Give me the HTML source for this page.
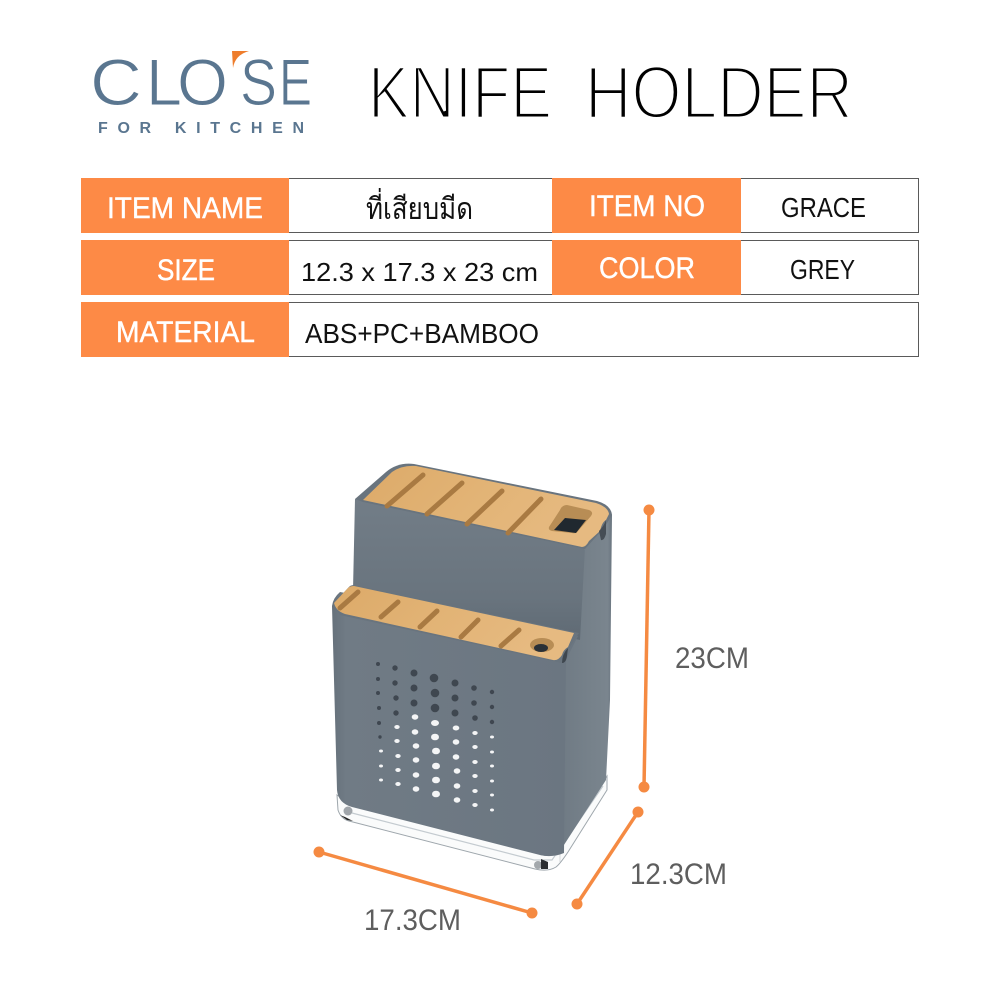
<!DOCTYPE html>
<html><head><meta charset="utf-8"><style>
html,body{margin:0;padding:0;background:#fff;width:1000px;height:1000px;overflow:hidden}
svg{display:block}
text{font-family:"Liberation Sans","Noto Sans CJK SC",sans-serif}
</style></head><body>
<svg width="1000" height="1000" viewBox="0 0 1000 1000" xmlns="http://www.w3.org/2000/svg">
<defs>
<linearGradient id="bam" x1="0" y1="0" x2="1" y2="0.3"><stop offset="0" stop-color="#dcaa69"/><stop offset=".5" stop-color="#e2b375"/><stop offset="1" stop-color="#e6ba81"/></linearGradient>
<linearGradient id="side" gradientUnits="userSpaceOnUse" x1="560" y1="0" x2="612" y2="0"><stop offset="0" stop-color="#6f7a84"/><stop offset=".55" stop-color="#76818a"/><stop offset=".92" stop-color="#7a858e"/><stop offset="1" stop-color="#69747e"/></linearGradient>
<linearGradient id="upper" x1="0" y1="0" x2="0" y2="1"><stop offset="0" stop-color="#727d87"/><stop offset=".7" stop-color="#69747e"/><stop offset="1" stop-color="#5f6a74"/></linearGradient>
<linearGradient id="front" gradientUnits="userSpaceOnUse" x1="332" y1="0" x2="566" y2="0"><stop offset="0" stop-color="#66717b"/><stop offset=".06" stop-color="#707b85"/><stop offset="1" stop-color="#6b7681"/></linearGradient>
</defs>

<!-- logo -->
<g fill="#5a7690" stroke="#fff" stroke-width="1" font-size="66">
<text x="90" y="105" textLength="52" lengthAdjust="spacingAndGlyphs">C</text>
<text x="146" y="105" textLength="36" lengthAdjust="spacingAndGlyphs">L</text>
<text x="177" y="105" textLength="51" lengthAdjust="spacingAndGlyphs">O</text>
<text x="240" y="105" textLength="37" lengthAdjust="spacingAndGlyphs">S</text>
<text x="279" y="105" textLength="33" lengthAdjust="spacingAndGlyphs">E</text>
</g>
<path d="M232 51H249Q235 55 233 68Z" fill="#ee7d2c"/>
<text x="98" y="133" font-size="16" font-weight="bold" fill="#5a7690" textLength="206">FOR KITCHEN</text>

<!-- title -->
<g fill="#000" stroke="#fff" stroke-width="3" font-size="74">
<text x="368" y="118" textLength="184" lengthAdjust="spacingAndGlyphs">KNIFE</text>
<text x="585" y="118" textLength="268" lengthAdjust="spacingAndGlyphs">HOLDER</text>
</g>

<!-- table -->
<g fill="none" stroke="#5a5a5a" stroke-width="1">
<rect x="81.500" y="178.500" width="837" height="54"/>
<rect x="81.500" y="240.500" width="837" height="54"/>
<rect x="81.500" y="302.500" width="837" height="54"/>
</g>
<g fill="#fd8a46">
<rect x="81" y="178" width="208" height="55"/>
<rect x="81" y="240" width="208" height="55"/>
<rect x="81" y="302" width="208" height="55"/>
<rect x="552" y="178" width="189" height="55"/>
<rect x="552" y="240" width="189" height="55"/>
</g>
<g fill="#fff" stroke="#fff" stroke-width=".4" font-size="30">
<text x="107" y="218" textLength="156" lengthAdjust="spacingAndGlyphs">ITEM NAME</text>
<text x="157" y="280" textLength="58" lengthAdjust="spacingAndGlyphs">SIZE</text>
<text x="116" y="342" textLength="139" lengthAdjust="spacingAndGlyphs">MATERIAL</text>
<text x="589" y="216" textLength="116" lengthAdjust="spacingAndGlyphs">ITEM NO</text>
<text x="599" y="278" textLength="96" lengthAdjust="spacingAndGlyphs">COLOR</text>
</g>
<g fill="#111" font-size="28">
<text x="366" y="219" font-size="30" font-family="'Liberation Sans','Noto Sans Thai','Noto Sans CJK SC',sans-serif" textLength="107" lengthAdjust="spacingAndGlyphs">ที่เสียบมีด</text>
<text x="301" y="281" font-size="26" textLength="237" lengthAdjust="spacingAndGlyphs">12.3 x 17.3 x 23 cm</text>
<text x="305" y="343" textLength="234" lengthAdjust="spacingAndGlyphs">ABS+PC+BAMBOO</text>
<text x="781" y="217" textLength="85" lengthAdjust="spacingAndGlyphs">GRACE</text>
<text x="790" y="279" textLength="65" lengthAdjust="spacingAndGlyphs">GREY</text>
</g>

<!-- glass base -->
<path d="M337 795L338 810Q341 819 349 821L535 869Q548 872 556 867Q560 864 568 852L607 790L607 776L556 850L345 800Z" fill="#fafbfb" stroke="#9ea6ac" stroke-width="1"/>
<path d="M352 813L534 860L552 860L603 786" fill="none" stroke="#c4cbd0" stroke-width="1.200"/>
<path d="M560 848V862" stroke="#d5dadd" stroke-width="1"/>
<circle cx="348" cy="811" r="4.500" fill="#a0a5aa"/><path d="M340 815L347 820L353 821L345 817Z" fill="#222"/>
<circle cx="538" cy="865" r="4" fill="#a3a8ac"/><path d="M541 859L548 862L548 869L541 869Z" fill="#2a2d30"/>

<!-- side face -->
<path d="M585 548L612 514L610 700L606 780L562 848Q555 858 540 855L500 700L566 640Z" fill="url(#side)"/>
<!-- upper front -->
<path d="M355 499L353 590L580 640L585 548L363 500Z" fill="url(#upper)"/>
<!-- lower body front -->
<path d="M332 606Q333 598 340 592L578 636L566 660L564 853Q552 858 540 855L352 807Q338 803 337 790Z" fill="url(#front)"/>

<!-- upper bamboo -->
<path d="M355 499L386 472Q398 462 414 464L597 501Q611 505 612 515L604 528L585 549L363 502Z" fill="#69747e"/>
<path d="M363 500L392 472Q402 465 416 466L596 503Q608 507 609 514L606 520Q602 522 600 531L589 541Q586 547 582 547Z" fill="url(#bam)"/>
<g stroke="#a97a42" stroke-width="5" stroke-linecap="round" fill="none">
<path d="M387 506L423 475"/><path d="M427 514L462 483"/><path d="M467 524L502 491"/><path d="M508 533L541 499"/>
</g>
<path d="M549 527L560 510Q562 505 567 505L589 510Q594 512 591 516L578 531Q576 534 572 533L552 531Q548 530 549 527Z" fill="#b88d55"/>
<path d="M554 530L565 518L586 520L576 533Z" fill="#20282f"/>
<path d="M599 531Q604 526 606 520L606 534Q604 541 601 540Z" fill="#454d55"/>

<!-- lower bamboo -->
<path d="M333 604L348 588Q350 585 354 585L579 633L568 650L562 663L340 615Z" fill="#69747e"/>
<path d="M334 603L348 588Q350 586 354 586L574 633L568 647Q563 650 562 655Q558 661 553 660L345 614Q336 611 334 603Z" fill="url(#bam)"/>
<g stroke="#a97a42" stroke-width="5" stroke-linecap="round" fill="none">
<path d="M340 608L358 592"/><path d="M381 617L398 602"/><path d="M420 627L437 611"/><path d="M461 637L478 620"/><path d="M501 646L519 630"/>
</g>
<ellipse cx="542" cy="645" rx="12" ry="7" fill="#b88d55"/><ellipse cx="541" cy="648" rx="7" ry="4" fill="#2a3036"/>
<path d="M562 663Q562 654 568 648L567 656Q566 663 562 663Z" fill="#3f474f"/>

<!-- holes -->
<g fill="#3f4750">
<circle cx="378" cy="664" r="2"/><circle cx="378" cy="679" r="2"/><circle cx="378" cy="693" r="2"/><circle cx="379" cy="708" r="2"/><circle cx="379" cy="723" r="2"/><circle cx="380" cy="737" r="1.700"/>
<circle cx="395" cy="668" r="2.700"/><circle cx="395" cy="683" r="2.700"/><circle cx="396" cy="698" r="2.700"/><circle cx="396" cy="713" r="2.700"/>
<circle cx="414" cy="673" r="3.500"/><circle cx="414" cy="688" r="3.500"/><circle cx="414" cy="703" r="3.500"/>
<circle cx="434" cy="678" r="4.300"/><circle cx="435" cy="693" r="4.300"/><circle cx="435" cy="708" r="4.300"/>
<circle cx="455" cy="683" r="3.500"/><circle cx="455" cy="698" r="3.500"/><circle cx="455" cy="713" r="3.500"/>
<circle cx="474" cy="688" r="2.800"/><circle cx="474" cy="703" r="2.800"/><circle cx="475" cy="718" r="2.800"/>
<circle cx="492" cy="692" r="2.200"/><circle cx="492" cy="707" r="2.200"/><circle cx="492" cy="722" r="2.200"/>
</g>
<g fill="#f4f5f6">
<ellipse cx="381" cy="751" rx="2" ry="1.500"/><ellipse cx="381" cy="766" rx="2" ry="1.500"/><ellipse cx="381" cy="780" rx="2" ry="1.500"/>
<ellipse cx="397" cy="727" rx="2.700" ry="2"/><ellipse cx="397" cy="741" rx="2.700" ry="2"/><ellipse cx="398" cy="756" rx="2.700" ry="2"/><ellipse cx="398" cy="770" rx="2.700" ry="2"/><ellipse cx="398" cy="784" rx="2.700" ry="2"/>
<ellipse cx="415" cy="717" rx="3.300" ry="2.700"/><ellipse cx="415" cy="732" rx="3.300" ry="2.700"/><ellipse cx="416" cy="746" rx="3.300" ry="2.700"/><ellipse cx="416" cy="760" rx="3.300" ry="2.700"/><ellipse cx="416" cy="775" rx="3.300" ry="2.700"/><ellipse cx="416" cy="789" rx="3.300" ry="2.700"/>
<ellipse cx="435" cy="723" rx="4" ry="3"/><ellipse cx="435" cy="737" rx="4" ry="3.300"/><ellipse cx="436" cy="751" rx="4" ry="3.300"/><ellipse cx="436" cy="766" rx="4" ry="3.300"/><ellipse cx="436" cy="780" rx="4" ry="3.300"/><ellipse cx="436" cy="794" rx="4" ry="3.300"/>
<ellipse cx="456" cy="728" rx="3.300" ry="2.500"/><ellipse cx="456" cy="742" rx="3.300" ry="2.700"/><ellipse cx="456" cy="757" rx="3.300" ry="2.700"/><ellipse cx="457" cy="771" rx="3.300" ry="2.700"/><ellipse cx="457" cy="786" rx="3.300" ry="2.700"/><ellipse cx="457" cy="800" rx="3.300" ry="2.700"/>
<ellipse cx="475" cy="733" rx="2.700" ry="2"/><ellipse cx="475" cy="747" rx="2.700" ry="2"/><ellipse cx="475" cy="762" rx="2.700" ry="2"/><ellipse cx="475" cy="776" rx="2.700" ry="2"/><ellipse cx="475" cy="791" rx="2.700" ry="2"/><ellipse cx="475" cy="805" rx="2.700" ry="2"/>
<ellipse cx="492" cy="737" rx="2" ry="1.500"/><ellipse cx="492" cy="752" rx="2" ry="1.500"/><ellipse cx="492" cy="766" rx="2" ry="1.500"/><ellipse cx="492" cy="781" rx="2" ry="1.500"/><ellipse cx="492" cy="795" rx="2" ry="1.500"/><ellipse cx="492" cy="810" rx="2" ry="1.500"/>
</g>

<!-- dimensions -->
<g stroke="#f58a42" stroke-width="3.500" fill="#f58a42">
<line x1="649" y1="510" x2="644" y2="787"/>
<line x1="638" y1="812" x2="577" y2="904"/>
<line x1="319" y1="852" x2="532" y2="913"/>
</g>
<g fill="#f58a42">
<circle cx="649" cy="510" r="5.500"/><circle cx="644" cy="787" r="5.500"/>
<circle cx="638" cy="812" r="5.500"/><circle cx="577" cy="904" r="5.500"/>
<circle cx="319" cy="852" r="5.500"/><circle cx="532" cy="913" r="5.500"/>
</g>
<g fill="#5e5e5e" font-size="30">
<text x="675" y="668" textLength="74" lengthAdjust="spacingAndGlyphs">23CM</text>
<text x="630" y="884" textLength="97" lengthAdjust="spacingAndGlyphs">12.3CM</text>
<text x="364" y="930" textLength="97" lengthAdjust="spacingAndGlyphs">17.3CM</text>
</g>
</svg>
</body></html>
